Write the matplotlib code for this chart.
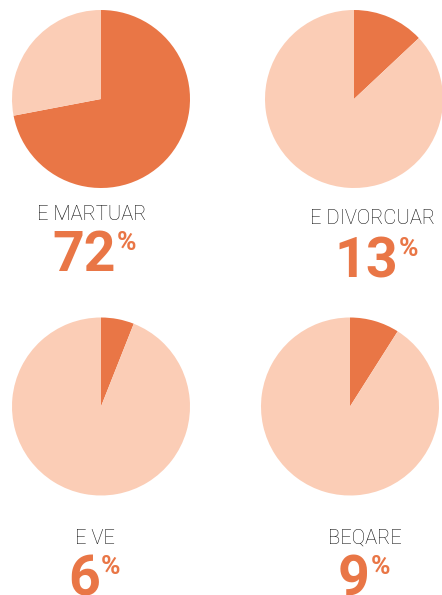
import matplotlib
matplotlib.use("Agg")
import matplotlib.pyplot as plt

labels = ["E MARTUAR", "E DIVORCUAR", "E VE", "BEQARE"]
shares = [72, 13, 6, 9]

dark = "#E97646"
light = "#FBCDB6"

W, H = 442, 595
fig = plt.figure(figsize=(W / 100, H / 100), dpi=100)

# pie centres in pixels (from top-left), radius
centres = [(101, 99), (354, 99), (101, 406.5), (350, 406.5)]
r = 89
# label centre x, label baseline y, number left x, number baseline y
txt_pos = [
    (92, 220, 52, 271),
    (372, 224, 334, 277),
    (95, 544, 68, 595),
    (365, 544, 338, 595),
]

def fx(x):
    return x / W

def fy(y):
    return 1 - y / H

fig.canvas.draw()
renderer = fig.canvas.get_renderer()

for i in range(4):
    cx, cy = centres[i]
    ax = fig.add_axes([fx(cx - r), fy(cy + r), 2 * r / W, 2 * r / H])
    ax.pie([shares[i], 100 - shares[i]], colors=[dark, light], startangle=90,
           counterclock=False, radius=1, wedgeprops=dict(linewidth=0))
    ax.set_xlim(-1, 1)
    ax.set_ylim(-1, 1)
    ax.axis("off")

    lx, ly, nx, ny = txt_pos[i]
    fig.text(fx(lx), fy(ly), labels[i], ha="center", va="baseline",
             fontsize=14.5, fontweight="light", color="#111111", family="Roboto")
    num = fig.text(fx(nx), fy(ny), str(shares[i]), ha="left", va="baseline",
                   fontsize=40, fontweight="bold", color=dark, family="Roboto")
    bb = num.get_window_extent(renderer)
    fig.text(fx(bb.x1 + 1), fy(ny - 21), "%", ha="left", va="baseline",
             fontsize=19, fontweight="bold", color=dark, family="Roboto")

fig.savefig("out.png", dpi=100)
